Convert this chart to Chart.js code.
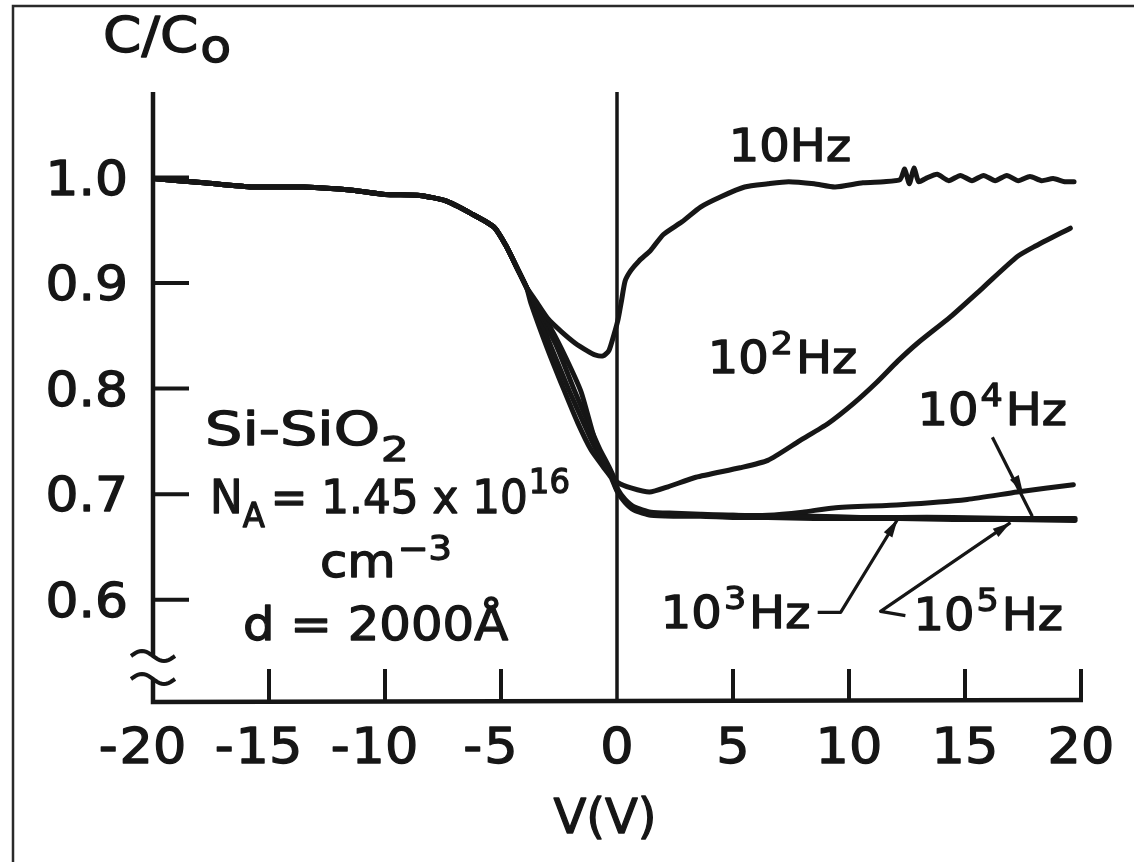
<!DOCTYPE html>
<html lang="en">
<head>
  <meta charset="UTF-8">
  <title>C/Co - V</title>
  <style>
    html, body { margin: 0; padding: 0; background: #fff; }
    .chartBox { width: 1134px; height: 862px; }
  </style>
</head>
<body>
  <div class="chartBox">
    <canvas id="myChart" width="1134" height="862"></canvas>
  </div>

  <script src="https://cdn.jsdelivr.net/npm/chart.js"></script>
  <script>
    const xTicks = [-20, -15, -10, -5, 0, 5, 10, 15, 20];
    const yTicks = [0.6, 0.7, 0.8, 0.9, 1.0];

    // part where all frequencies lie on top of each other
    const voltShared = [-20, -17.8, -15.7, -13.5, -11.4, -10, -8.5, -7.4, -6.3, -5.3, -4.8, -4.3, -3.9];
    const capShared  = [0.999, 0.995, 0.991, 0.991, 0.988, 0.984, 0.983, 0.978, 0.966, 0.953, 0.936, 0.914, 0.896];

    // 10 Hz
    const volt10 = [-3.5, -2.97, -2.4, -1.8, -1.3, -0.95, -0.6, -0.35, -0.12, 0.05, 0.2, 0.35, 0.6, 0.95, 1.45, 2.0, 2.8, 3.6, 4.5, 5.5,
                    6.5, 7.4, 8.5, 9.4, 10.6, 11.5, 12.2, 12.4, 12.6, 12.8, 13.0, 13.3, 13.8, 14.3, 14.8, 15.3, 15.8, 16.3, 16.8, 17.3,
                    17.8, 18.3, 18.8, 19.3, 19.7];
    const cap10  = [0.883, 0.866, 0.854, 0.843, 0.836, 0.832, 0.831, 0.836, 0.852, 0.866, 0.884, 0.902, 0.912, 0.921, 0.931, 0.946, 0.958, 0.972, 0.982, 0.991,
                    0.994, 0.996, 0.994, 0.991, 0.995, 0.996, 0.998, 1.008, 0.994, 1.009, 0.996, 0.999, 1.003, 0.997, 1.002, 0.997, 1.002, 0.997, 1.002, 0.997,
                    1.001, 0.997, 0.999, 0.996, 0.996];

    // 10^2 Hz
    const volt100 = [-3.5, -2.85, -2.2, -1.55, -0.99, -0.55, -0.2, 0.04, 0.6, 1.4, 2.2, 3.4, 5.3, 6.5, 7.9, 9.1, 10.2, 11.2, 12.1, 12.95,
                     14.37, 15.79, 17.25, 17.95, 19.54];
    const cap100  = [0.880, 0.857, 0.829, 0.797, 0.754, 0.729, 0.717, 0.711, 0.706, 0.702, 0.707, 0.716, 0.725, 0.732, 0.751, 0.767, 0.786, 0.806, 0.826, 0.843,
                     0.868, 0.896, 0.925, 0.934, 0.952];

    // 10^3 Hz
    const volt1k = [-3.62, -2.85, -2.1, -1.45, -0.9, -0.45, -0.2, 0, 0.35, 0.73, 1.46, 2.5, 3.6, 5, 6.5, 8.5, 10.5, 12.2, 14.5, 17, 19.75];
    const cap1k  = [0.882, 0.840, 0.800, 0.768, 0.742, 0.726, 0.715, 0.704, 0.694, 0.687, 0.682, 0.681, 0.680, 0.680, 0.679, 0.679, 0.678, 0.678, 0.678, 0.677, 0.677];

    // 10^4 Hz
    const volt10k = [-3.56, -2.6, -1.85, -1.25, -0.75, -0.35, -0.12, 0.05, 0.35, 0.73, 1.46, 2.5, 3.6, 5, 6.5, 8, 9.33, 12.22, 15.1, 17.25, 19.67];
    const cap10k  = [0.881, 0.840, 0.799, 0.768, 0.743, 0.726, 0.715, 0.704, 0.695, 0.688, 0.683, 0.682, 0.681, 0.680, 0.680, 0.683, 0.687, 0.690, 0.695, 0.702, 0.709];

    // 10^5 Hz
    const volt100k = [-3.71, -3.0, -2.29, -1.7, -1.12, -0.6, -0.26, 0, 0.35, 0.73, 1.46, 2.5, 3.6, 5, 6.5, 8.5, 10.5, 12.2, 14.5, 17, 19.75];
    const cap100k  = [0.881, 0.838, 0.799, 0.768, 0.742, 0.726, 0.716, 0.703, 0.692, 0.685, 0.680, 0.679, 0.679, 0.678, 0.678, 0.677, 0.677, 0.677, 0.676, 0.676, 0.675];

    // labels and leader lines (data units)
    const curveLabels = [
      { base: '10', sup: '',  at: [4.82, 1.016] },
      { base: '10', sup: '2', at: [3.91, 0.815] },
      { base: '10', sup: '4', at: [12.95, 0.766] },
      { base: '10', sup: '3', at: [1.89, 0.5735] },
      { base: '10', sup: '5', at: [12.78, 0.5716] }
    ];
    const leader4 = [[16.18, 0.754], [17.9, 0.679]];
    const arrow4  = [17.5, 0.701];
    const leader3 = [[8.65, 0.588], [9.64, 0.588], [12.09, 0.676]];
    const leader5 = [[12.43, 0.585], [11.36, 0.589], [16.96, 0.673]];

    const INK = '#161616';
    const FONT = '"DejaVu Sans"';

    function pts(vs, cs) {
      return vs.map((v, i) => ({ x: v, y: cs[i] }));
    }
    const shared = pts(voltShared, capShared);

    function series(label, vs, cs) {
      return {
        label: label,
        data: shared.concat(pts(vs, cs)),
        borderColor: INK,
        borderWidth: 5,
        pointRadius: 0,
        showLine: true,
        tension: 0.2,
        borderCapStyle: 'round',
        borderJoinStyle: 'round'
      };
    }

    // draws text pieces one after another: [text, size, dy, gap]
    function rich(ctx, x, y, parts, sx) {
      let cx = x;
      parts.forEach(p => {
        const [s, size, dy, gap] = p;
        ctx.save();
        ctx.font = size + 'px ' + FONT;
        const w = ctx.measureText(s).width * sx;
        ctx.translate(cx, y + (dy || 0));
        ctx.scale(sx, 1);
        ctx.textAlign = 'left';
        ctx.textBaseline = 'alphabetic';
        ctx.fillStyle = INK;
        ctx.strokeStyle = INK;
        ctx.lineWidth = 1.3;
        ctx.lineJoin = 'round';
        ctx.fillText(s, 0, 0);
        ctx.strokeText(s, 0, 0);
        ctx.restore();
        cx += w + (gap || 0);
      });
      return cx - x;
    }

    function textWidth(ctx, s, size, sx) {
      ctx.save();
      ctx.font = size + 'px ' + FONT;
      const w = ctx.measureText(s).width * sx;
      ctx.restore();
      return w;
    }

    function arrowHead(ctx, tx, ty, fx, fy) {
      const dx = tx - fx, dy = ty - fy;
      const d = Math.hypot(dx, dy);
      const ux = dx / d, uy = dy / d;
      const L = 18, w = 5;
      const bx = tx - ux * L, by = ty - uy * L;
      ctx.beginPath();
      ctx.moveTo(tx, ty);
      ctx.lineTo(bx - uy * w, by + ux * w);
      ctx.lineTo(bx + uy * w, by - ux * w);
      ctx.closePath();
      ctx.fill();
    }

    function tilde(ctx, cx, cy) {
      ctx.beginPath();
      for (let i = 0; i <= 20; i++) {
        const t = -1 + i / 10;
        const px = cx + 22 * t;
        const py = cy + 5 * Math.sin(Math.PI * t);
        if (i === 0) ctx.moveTo(px, py); else ctx.lineTo(px, py);
      }
      ctx.stroke();
    }

    const background = {
      id: 'background',
      beforeDraw(chart) {
        const ctx = chart.ctx;
        ctx.save();
        ctx.fillStyle = '#ffffff';
        ctx.fillRect(0, 0, chart.width, chart.height);
        ctx.restore();
      }
    };

    const frame = {
      id: 'frame',
      afterDraw(chart) {
        const ctx = chart.ctx;
        const xs = chart.scales.x, ys = chart.scales.y;
        const area = chart.chartArea;
        const X = v => xs.getPixelForValue(v);
        const Y = v => ys.getPixelForValue(v);

        ctx.save();
        // picture border
        ctx.strokeStyle = '#2a2a2a';
        ctx.lineWidth = 2.5;
        ctx.beginPath();
        ctx.moveTo(13, 862);
        ctx.lineTo(13, 6);
        ctx.lineTo(1134, 6);
        ctx.stroke();

        ctx.strokeStyle = INK;
        ctx.fillStyle = INK;
        ctx.lineCap = 'butt';

        // y axis with break
        const x0 = area.left;
        const b = area.bottom;
        ctx.lineWidth = 4.5;
        ctx.beginPath();
        ctx.moveTo(x0, area.top);
        ctx.lineTo(x0, b - 44);
        ctx.moveTo(x0, b - 21);
        ctx.lineTo(x0, b + 2);
        ctx.lineTo(area.right + 2, b);
        ctx.stroke();
        ctx.lineWidth = 4;
        tilde(ctx, x0, b - 44);
        tilde(ctx, x0, b - 21);

        // V = 0 line
        ctx.lineWidth = 3.5;
        ctx.beginPath();
        ctx.moveTo(X(0), area.top);
        ctx.lineTo(X(0), b);
        ctx.stroke();

        // ticks (inward)
        ctx.lineWidth = 4;
        ctx.beginPath();
        yTicks.forEach(v => {
          ctx.moveTo(x0, Y(v));
          ctx.lineTo(x0 + 36, Y(v));
        });
        xTicks.forEach(v => {
          if (v === -20 || v === 0) return;
          ctx.moveTo(X(v), b);
          ctx.lineTo(X(v), b - 31);
        });
        ctx.stroke();

        // tick labels
        yTicks.forEach(v => {
          const s = v.toFixed(1);
          const w = textWidth(ctx, s, 48, 1.08);
          rich(ctx, 128 - w, Y(v) + 17, [[s, 48, 0]], 1.08);
        });
        xTicks.forEach(v => {
          const s = String(Math.abs(v));
          const w = textWidth(ctx, s, 50, 1.05);
          const left = X(v) - w / 2;
          rich(ctx, left, 763, [[s, 50, 0]], 1.05);
          if (v < 0) {
            const mw = textWidth(ctx, '-', 50, 1.05);
            rich(ctx, left - mw - 2, 763, [['-', 50, 0]], 1.05);
          }
        });

        // axis titles
        rich(ctx, 103, 52, [['C/C', 50, 0, 2], ['o', 46, 10]], 1.1);
        const vw = textWidth(ctx, 'V(V)', 48, 1.0);
        rich(ctx, 605 - vw / 2, 833, [['V(V)', 48, 0]], 1.0);

        // sample description
        rich(ctx, 205, 445, [['Si-SiO', 46, 0, 1], ['2', 34, 16]], 1.28);
        rich(ctx, 210, 513, [['N', 46, 0, 0], ['A', 34, 14, 6], ['= 1.45 x 10', 46, 0, 1], ['16', 34, -20]], 0.95);
        rich(ctx, 320, 577, [['cm', 46, 0, 2], ['\u22123', 34, -17]], 1.08);
        rich(ctx, 243, 640, [['d = 2000\u00c5', 46, 0]], 1.08);

        // curve labels
        curveLabels.forEach(l => {
          const px = X(l.at[0]), py = Y(l.at[1]);
          if (l.sup) {
            rich(ctx, px, py, [[l.base, 44, 0, 2], [l.sup, 32, -19, 3], ['Hz', 44, 0]], 1.09);
          } else {
            rich(ctx, px, py, [[l.base + 'Hz', 44, 0]], 1.09);
          }
        });

        // leader lines
        ctx.lineWidth = 3.2;
        ctx.lineJoin = 'round';
        [leader4, leader3, leader5].forEach(line => {
          ctx.beginPath();
          line.forEach((p, i) => {
            if (i === 0) ctx.moveTo(X(p[0]), Y(p[1]));
            else ctx.lineTo(X(p[0]), Y(p[1]));
          });
          ctx.stroke();
        });
        arrowHead(ctx, X(arrow4[0]), Y(arrow4[1]), X(leader4[0][0]), Y(leader4[0][1]));
        [leader3, leader5].forEach(line => {
          const n = line.length;
          arrowHead(ctx, X(line[n - 1][0]), Y(line[n - 1][1]), X(line[n - 2][0]), Y(line[n - 2][1]));
        });
        ctx.restore();
      }
    };

    const data = {
      datasets: [
        series('10Hz', volt10, cap10),
        series('10^2Hz', volt100, cap100),
        series('10^4Hz', volt10k, cap10k),
        series('10^3Hz', volt1k, cap1k),
        series('10^5Hz', volt100k, cap100k)
      ]
    };

    const config = {
      type: 'scatter',
      data,
      options: {
        responsive: false,
        animation: false,
        devicePixelRatio: 1,
        layout: { padding: { left: 153, right: 53, top: 92, bottom: 162 } },
        scales: {
          x: { type: 'linear', min: -20, max: 20, display: false },
          y: { type: 'linear', min: 0.505, max: 1.081, display: false }
        },
        plugins: {
          legend: { display: false },
          tooltip: { enabled: false }
        }
      },
      plugins: [background, frame]
    };

    const myChart = new Chart(document.getElementById('myChart'), config);
  </script>
</body>
</html>
